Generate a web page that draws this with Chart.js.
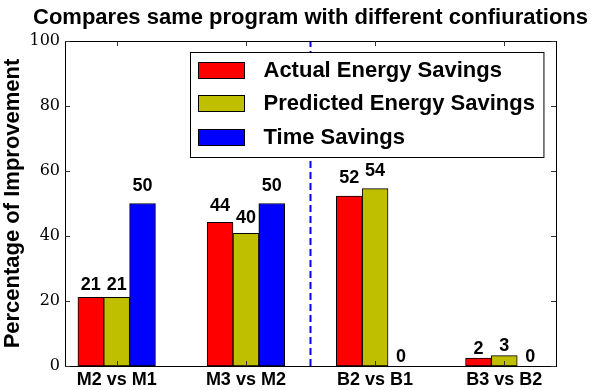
<!DOCTYPE html>
<html>
<head>
<meta charset="utf-8">
<title>Compares same program with different confiurations</title>
<script src="https://cdn.jsdelivr.net/npm/chart.js@4"></script>
<style>
  body { margin: 0; background: #fff; }
</style>
</head>
<body>
<canvas id="chart" width="598" height="390"></canvas>
<script>
const chartTitle = 'Compares same program with different confiurations';
const yAxisTitle = 'Percentage of Improvement';
const categories = ['M2 vs M1', 'M3 vs M2', 'B2 vs B1', 'B3 vs B2'];
const seriesNames = ['Actual Energy Savings', 'Predicted Energy Savings', 'Time Savings'];
const actualEnergy = [21.1, 44.2, 52.3, 2.4];
const predictedEnergy = [21.1, 40.8, 54.6, 3.2];
const timeSavings = [50, 50, 0, 0];
const yTicks = [0, 20, 40, 60, 80, 100];
const dividerAt = 1.8; // dashed line between the M and B comparisons

const seriesColors = ['#ff0000', '#bfbf00', '#0000ff'];
const barWidth = 0.2;
const sansBold = '"Liberation Sans", Arial, Helvetica, sans-serif';

function barData(values, k) {
    return values.map((v, i) => ({ x: i + barWidth * (k + 0.5), y: v }));
}

const seriesValues = [actualEnergy, predictedEnergy, timeSavings];
const datasets = seriesValues.map((vals, k) => ({
    type: 'bar',
    label: seriesNames[k],
    data: barData(vals, k),
    backgroundColor: seriesColors[k],
    borderColor: '#000',
    borderWidth: 1,
    borderSkipped: false,
    grouped: false,
    barPercentage: 1,
    categoryPercentage: 1
}));

datasets.push({
    type: 'line',
    label: 'divider',
    data: [{ x: dividerAt, y: yTicks[0] }, { x: dividerAt, y: yTicks[yTicks.length - 1] }],
    borderColor: '#0000ff',
    borderWidth: 2,
    borderDash: [7, 4],
    pointRadius: 0,
    fill: false
});

// frame + inward ticks on all four sides (classic matplotlib look)
const framePlugin = {
    id: 'frame',
    afterDatasetsDraw(chart) {
        const ctx = chart.ctx;
        const ca = chart.chartArea;
        const xs = chart.scales.x;
        const ys = chart.scales.y;
        ctx.save();
        ctx.strokeStyle = '#000';
        ctx.lineWidth = 1;
        ctx.strokeRect(ca.left + 0.5, ca.top + 0.5, ca.right - ca.left, ca.bottom - ca.top);
        ctx.strokeStyle = '#333';
        ctx.beginPath();
        yTicks.forEach(v => {
            const py = Math.round(ys.getPixelForValue(v)) + 0.5;
            ctx.moveTo(ca.left, py); ctx.lineTo(ca.left + 5, py);
            ctx.moveTo(ca.right, py); ctx.lineTo(ca.right - 5, py);
        });
        xs.ticks.forEach(t => {
            const px = Math.round(xs.getPixelForValue(t.value)) + 0.5;
            ctx.moveTo(px, ca.top); ctx.lineTo(px, ca.top + 5);
            ctx.moveTo(px, ca.bottom); ctx.lineTo(px, ca.bottom - 5);
        });
        ctx.stroke();

        // value labels above bars
        ctx.font = 'bold 18px ' + sansBold;
        ctx.textAlign = 'center';
        ctx.textBaseline = 'bottom';
        ctx.fillStyle = '#000';
        chart.data.datasets.forEach((ds, di) => {
            if (ds.type !== 'bar') return;
            chart.getDatasetMeta(di).data.forEach((bar, i) => {
                const v = ds.data[i].y;
                ctx.fillText(String(Math.floor(v)), bar.x, ys.getPixelForValue(v * 1.05));
            });
        });
        ctx.restore();
    },
    afterDraw(chart) {
        const ctx = chart.ctx;
        const ca = chart.chartArea;
        ctx.save();
        // title
        ctx.font = 'bold 22px ' + sansBold;
        ctx.fillStyle = '#000';
        ctx.textAlign = 'center';
        ctx.textBaseline = 'alphabetic';
        ctx.fillText(chartTitle, (ca.left + ca.right) / 2, ca.top - 17);

        // legend box
        ctx.font = 'bold 22px ' + sansBold;
        const maxW = Math.max(...seriesNames.map(s => ctx.measureText(s).width));
        const boxW = 73 + maxW + 9;
        const boxH = 105;
        const bx = Math.round(ca.right - 13 - boxW) + 0.5;
        const by = Math.round(ca.top + 11) + 0.5;
        ctx.fillStyle = '#fff';
        ctx.fillRect(bx, by, boxW, boxH);
        ctx.strokeStyle = '#000';
        ctx.lineWidth = 1;
        ctx.strokeRect(bx, by, boxW, boxH);
        ctx.textAlign = 'left';
        ctx.textBaseline = 'middle';
        seriesNames.forEach((name, k) => {
            const cy = by + 17 + k * 33.5;
            ctx.fillStyle = seriesColors[k];
            ctx.fillRect(bx + 8, Math.round(cy - 8), 46, 16);
            ctx.strokeRect(bx + 8, Math.round(cy - 8) + 0.5, 46, 16);
            ctx.fillStyle = '#000';
            ctx.fillText(name, bx + 73, cy + 1);
        });
        ctx.restore();
    }
};

new Chart(document.getElementById('chart'), {
    type: 'bar',
    data: { datasets: datasets },
    options: {
        responsive: false,
        animation: false,
        layout: { padding: { top: 41, right: 42, left: 0, bottom: 0 } },
        plugins: {
            legend: { display: false },
            title: { display: false },
            tooltip: { enabled: false }
        },
        scales: {
            x: {
                type: 'linear',
                offset: false,
                min: -barWidth / 2,
                max: categories.length - 1 + 3 * barWidth + barWidth / 2,
                afterBuildTicks(scale) {
                    scale.ticks = categories.map((c, i) => ({ value: i + 1.5 * barWidth }));
                },
                afterFit(scale) { scale.height = 24; },
                grid: { display: false, drawTicks: false, offset: false },
                border: { display: false },
                ticks: {
                    autoSkip: false,
                    maxRotation: 0,
                    padding: 3,
                    color: '#000',
                    font: { family: sansBold, size: 18, weight: 'bold' },
                    callback: (value, index) => categories[index]
                }
            },
            y: {
                min: yTicks[0],
                max: yTicks[yTicks.length - 1],
                afterBuildTicks(scale) {
                    scale.ticks = yTicks.map(v => ({ value: v }));
                },
                afterFit(scale) { scale.width = 65; },
                grid: { display: false, drawTicks: false },
                border: { display: false },
                ticks: {
                    padding: 5,
                    color: '#000',
                    font: { family: '"DejaVu Serif", serif', size: 16 }
                },
                title: {
                    display: true,
                    text: yAxisTitle,
                    color: '#000',
                    padding: { top: 0, bottom: 0 },
                    font: { family: sansBold, size: 22, weight: 'bold' }
                }
            }
        }
    },
    plugins: [framePlugin]
});
</script>
</body>
</html>
